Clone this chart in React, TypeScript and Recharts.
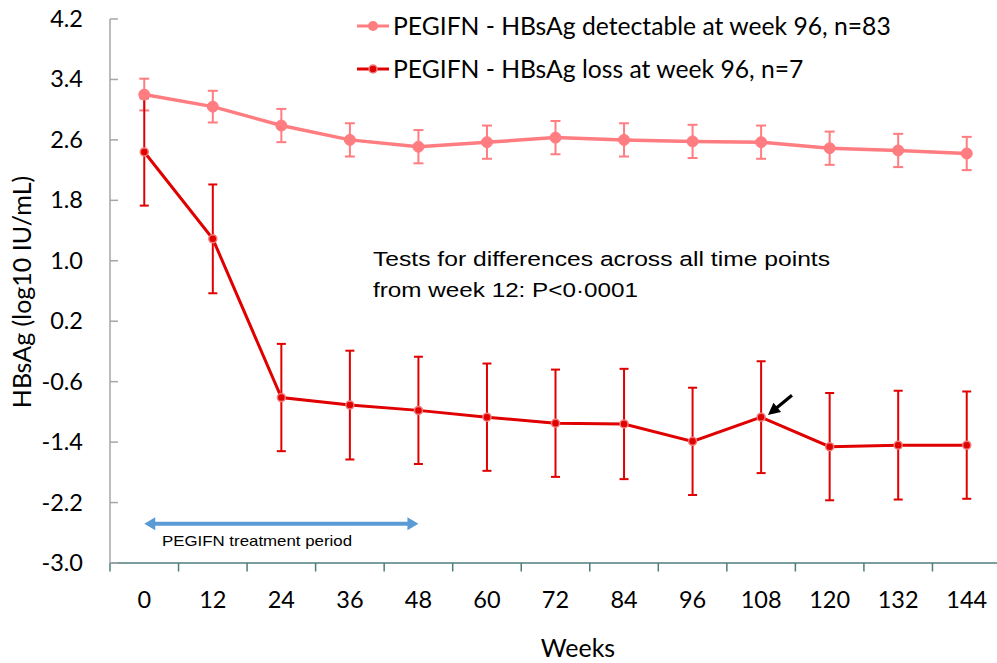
import React from 'react';
import { LineChart, Line, XAxis, YAxis, ErrorBar, Legend, ReferenceLine } from 'recharts';

const weeks = [0, 12, 24, 36, 48, 60, 72, 84, 96, 108, 120, 132, 144];
const detectable = [3.2, 3.04, 2.79, 2.6, 2.51, 2.57, 2.63, 2.6, 2.58, 2.57, 2.49, 2.46, 2.42];
const detectableErr = [0.21, 0.21, 0.22, 0.22, 0.22, 0.22, 0.22, 0.22, 0.22, 0.22, 0.22, 0.22, 0.22];
const loss = [2.44, 1.29, -0.81, -0.91, -0.98, -1.07, -1.15, -1.16, -1.39, -1.07, -1.46, -1.44, -1.44];
const lossErr = [0.71, 0.72, 0.71, 0.72, 0.71, 0.71, 0.71, 0.73, 0.71, 0.74, 0.71, 0.72, 0.71];
const yTicks = [-3.0, -2.2, -1.4, -0.6, 0.2, 1.0, 1.8, 2.6, 3.4, 4.2];
const xBoundaries = [-6, 6, 18, 30, 42, 54, 66, 78, 90, 102, 114, 126, 138, 150];
const legendLabels = [
  'PEGIFN - HBsAg detectable at week 96, n=83',
  'PEGIFN - HBsAg loss at week 96, n=7',
];
const noteLines = ['Tests for differences across all time points', 'from week 12: P<0·0001'];
const periodLabel = 'PEGIFN treatment period';
const periodArrow = { from: 0, to: 48, y: -2.48 };
const pointerArrow = { fromX: 113.4, fromY: -0.78, toX: 109.2, toY: -1.04 };

const PINK = '#FF7C80';
const RED = '#E00000';

const data = weeks.map((w, i) => ({
  week: w,
  detectable: detectable[i],
  detErr: detectableErr[i],
  loss: loss[i],
  lossErr: lossErr[i],
}));

const xTicks = [...weeks, ...xBoundaries].sort((a, b) => a - b);

const YTick = (props: any) => {
  const { x, y, payload } = props;
  return (
    <g>
      <line x1={x + 27} x2={x + 35} y1={y} y2={y} stroke="#A6A6A6" strokeWidth={1.5} />
      <text x={x} y={y} dy={8} textAnchor="end" fontFamily="Lato" fontSize={23.5} fill="#000">
        {Number(payload.value).toFixed(1)}
      </text>
    </g>
  );
};

const XTick = (props: any) => {
  const { x, y, payload } = props;
  const v = payload.value;
  if (v % 12 !== 0) {
    return <line x1={x} x2={x} y1={y} y2={y + 8.5} stroke="#4E7C7C" strokeWidth={1.5} />;
  }
  return (
    <text x={x} y={y + 45} textAnchor="middle" fontFamily="Lato" fontSize={23.5} fill="#000">
      {v}
    </text>
  );
};

const renderLegend = () => (
  <div style={{ fontFamily: 'Lato', fontSize: 24.7, color: '#000', lineHeight: 1 }}>
    {legendLabels.map((label, i) => (
      <div key={label} style={{ display: 'flex', alignItems: 'center', height: 42.6 }}>
        <svg width={34} height={14} style={{ marginRight: 2 }}>
          <line x1={0} x2={32} y1={7} y2={7} stroke={i === 0 ? PINK : RED} strokeWidth={3} />
          {i === 0 ? (
            <circle cx={16} cy={7} r={5} fill={PINK} />
          ) : (
            <circle cx={16} cy={7} r={4} fill={RED} stroke="#F47A7A" strokeWidth={1.5} />
          )}
        </svg>
        <span>{label}</span>
      </div>
    ))}
  </div>
);

const BlueArrow = (props: any) => {
  const { x1, y1, x2, y2 } = props;
  const h = 11;
  const w = 6.5;
  return (
    <g>
      <line x1={x1 + h - 1} x2={x2 - h + 1} y1={y1} y2={y2} stroke="#5B9BD5" strokeWidth={4} />
      <polygon points={`${x1},${y1} ${x1 + h},${y1 - w} ${x1 + h},${y1 + w}`} fill="#5B9BD5" />
      <polygon points={`${x2},${y2} ${x2 - h},${y2 - w} ${x2 - h},${y2 + w}`} fill="#5B9BD5" />
    </g>
  );
};

const BlackArrow = (props: any) => {
  const { x1, y1, x2, y2 } = props;
  const dx = x2 - x1;
  const dy = y2 - y1;
  const len = Math.sqrt(dx * dx + dy * dy);
  const ux = dx / len;
  const uy = dy / len;
  const h = 12;
  const w = 6;
  const bx = x2 - ux * h;
  const by = y2 - uy * h;
  const px = -uy;
  const py = ux;
  return (
    <g>
      <line x1={x1} y1={y1} x2={bx + ux} y2={by + uy} stroke="#000" strokeWidth={3.2} />
      <polygon
        points={`${x2},${y2} ${bx + px * w},${by + py * w} ${bx - px * w},${by - py * w}`}
        fill="#000"
      />
    </g>
  );
};

export default function App() {
  return (
    <div style={{ position: 'absolute', left: 0, top: 0, width: 997, height: 663, overflow: 'hidden', background: '#fff' }}>
      <LineChart width={1002} height={663} data={data} margin={{ top: 19, right: 1, bottom: 0, left: 0 }}>
        <XAxis
          dataKey="week"
          type="number"
          domain={[-6, 150]}
          ticks={xTicks}
          interval={0}
          allowDataOverflow
          height={100}
          tickSize={0}
          tickMargin={0}
          tickLine={false}
          tick={<XTick />}
          axisLine={{ stroke: '#4E7C7C', strokeWidth: 1.5 }}
          label={{
            content: () => (
              <text x={578} y={657} textAnchor="middle" fontFamily="Lato" fontSize={25} fill="#000">
                Weeks
              </text>
            ),
          }}
        />
        <YAxis
          type="number"
          domain={[-3, 4.2]}
          ticks={yTicks}
          interval={0}
          allowDataOverflow
          width={110}
          tickSize={0}
          tickMargin={27}
          tickLine={false}
          tick={<YTick />}
          axisLine={{ stroke: '#A6A6A6', strokeWidth: 1.5 }}
          label={{
            content: () => (
              <text
                x={31}
                y={292}
                transform="rotate(-90 31 292)"
                textAnchor="middle"
                fontFamily="Lato"
                fontSize={25}
                fill="#000"
              >
                HBsAg (log10 IU/mL)
              </text>
            ),
          }}
        />
        <Legend
          content={renderLegend}
          layout="horizontal"
          verticalAlign="middle"
          align="center"
          wrapperStyle={{ position: 'absolute', top: 5, left: 357, width: 620, height: 90 }}
        />
        <ReferenceLine
          segment={[
            { x: periodArrow.from, y: periodArrow.y },
            { x: periodArrow.to, y: periodArrow.y },
          ]}
          shape={<BlueArrow />}
        />
        <ReferenceLine
          segment={[
            { x: pointerArrow.fromX, y: pointerArrow.fromY },
            { x: pointerArrow.toX, y: pointerArrow.toY },
          ]}
          shape={<BlackArrow />}
        />
        <Line
          dataKey="detectable"
          stroke={PINK}
          strokeWidth={3.5}
          dot={{ r: 5.5, fill: PINK, stroke: PINK, strokeWidth: 1 }}
          activeDot={false}
          isAnimationActive={false}
        >
          <ErrorBar dataKey="detErr" width={5} strokeWidth={2} stroke={PINK} direction="y" />
        </Line>
        <Line
          dataKey="loss"
          stroke={RED}
          strokeWidth={3}
          dot={{ r: 4, fill: RED, stroke: '#F47A7A', strokeWidth: 1.5 }}
          activeDot={false}
          isAnimationActive={false}
        >
          <ErrorBar dataKey="lossErr" width={4.5} strokeWidth={2} stroke={RED} direction="y" />
        </Line>
      </LineChart>
      <svg
        width={997}
        height={663}
        style={{ position: 'absolute', left: 0, top: 0, pointerEvents: 'none' }}
      >
        <text x={373} y={266} fontFamily="Liberation Sans, Arial" fontSize={20.5} fill="#000" textLength={457} lengthAdjust="spacingAndGlyphs">
          {noteLines[0]}
        </text>
        <text x={373} y={297} fontFamily="Liberation Sans, Arial" fontSize={20.5} fill="#000" textLength={265} lengthAdjust="spacingAndGlyphs">
          {noteLines[1]}
        </text>
        <text x={162} y={546} fontFamily="Liberation Sans, Arial" fontSize={15} fill="#000" textLength={190} lengthAdjust="spacingAndGlyphs">
          {periodLabel}
        </text>
      </svg>
    </div>
  );
}
